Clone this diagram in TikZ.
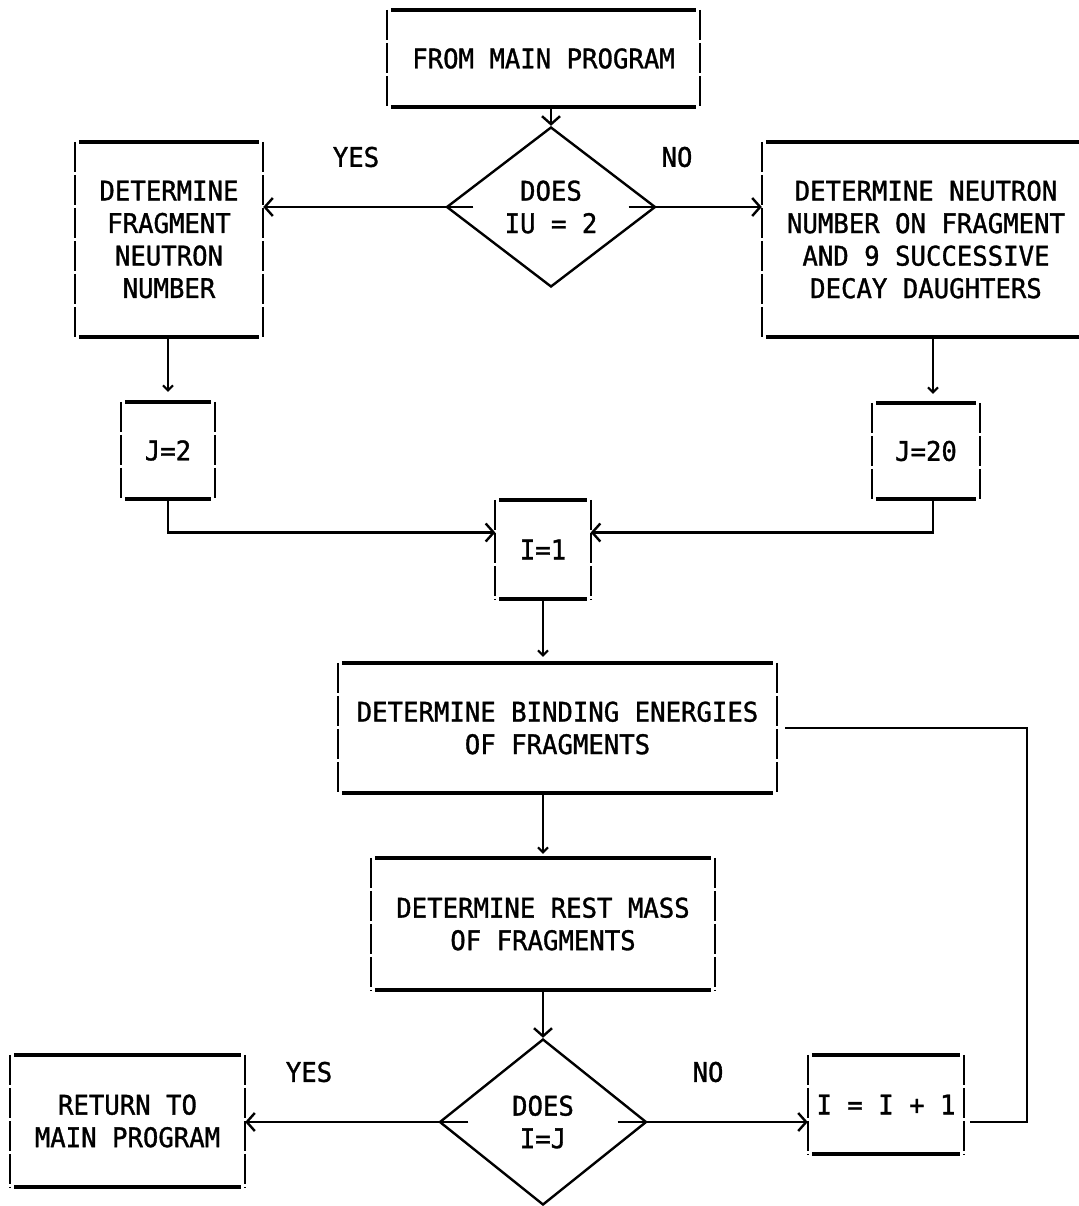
\documentclass[tikz,border=0pt]{standalone}
\usepackage{fontspec}
\newfontfamily\mono[FakeStretch=0.95,FakeBold=1.2]{DejaVu Sans Mono}
\usetikzlibrary{shapes.geometric,arrows.meta,calc}
\tikzset{
  txt/.style={font=\mono\fontsize{27}{32.5}\selectfont, align=center},
  box/.style={txt, rectangle, inner sep=0pt},
  dec/.style={txt, diamond, draw, line width=2.4pt, inner sep=0pt},
  side/.style={line width=2.2pt, dash pattern=on 30pt off 3pt},
  rule/.style={line width=4.4pt},
  conn/.style={line width=2.6pt},
  arr/.style={conn, -{Straight Barb[length=8pt,width=18pt,line width=2.4pt]}},
  sarr/.style={conn, -{Straight Barb[length=5pt,width=10pt,line width=2pt]}},
  lbl/.style={txt}
}
\begin{document}
\begin{tikzpicture}[x=1pt,y=-1pt]
\useasboundingbox (0,0) rectangle (1078,1206);
% boxes
\node[box, minimum width=313pt, minimum height=97pt] (start) at (543.5,58.5) {FROM MAIN PROGRAM};
\node[dec, minimum width=209pt, minimum height=160pt] (d1) at (551,207) {DOES\\IU = 2};
\node[box, minimum width=188pt, minimum height=195pt] (L) at (169,239.5) {DETERMINE\\FRAGMENT\\NEUTRON\\NUMBER};
\node[box, minimum width=328pt, minimum height=195pt] (R) at (926,239.5) {DETERMINE NEUTRON\\NUMBER ON FRAGMENT\\AND 9 SUCCESSIVE\\DECAY DAUGHTERS};
\node[box, minimum width=94pt, minimum height=97pt] (J2) at (168,450.5) {J=2};
\node[box, minimum width=108pt, minimum height=96pt] (J20) at (926,451) {J=20};
\node[box, minimum width=95pt, minimum height=99pt] (I1) at (543,549.5) {I=1};
\node[box, minimum width=439pt, minimum height=130pt] (bind) at (557.5,728) {DETERMINE BINDING ENERGIES\\OF FRAGMENTS};
\node[box, minimum width=344pt, minimum height=132pt] (rest) at (543,924) {DETERMINE REST MASS\\OF FRAGMENTS};
\node[dec, minimum width=207pt, minimum height=166pt] (d2) at (543,1122) {DOES\\I=J};
\node[box, minimum width=235pt, minimum height=132pt] (ret) at (127.5,1121) {RETURN TO\\MAIN PROGRAM};
\node[box, minimum width=156pt, minimum height=99pt] (inc) at (886,1104.5) {I = I + 1};
% box outlines: thin broken sides, heavy top and bottom
\foreach \n in {start,L,R,J2,J20,I1,bind,rest,ret,inc} {
  \draw[side] (\n.north west) -- (\n.south west);
  \draw[side] (\n.north east) -- (\n.south east);
  \draw[rule] ([xshift=4pt]\n.north west) -- ([xshift=-4pt]\n.north east);
  \draw[rule] ([xshift=4pt]\n.south west) -- ([xshift=-4pt]\n.south east);
}
% labels
\node[lbl] (yes1) at (356,157) {YES};
\node[lbl] (no1) at (677,157) {NO};
\node[lbl] (yes2) at (309,1072) {YES};
\node[lbl] (no2) at (708,1072) {NO};
% helper coordinates
\coordinate (m) at (544,532.5);
\coordinate (c1) at (1027,728);
\coordinate (c2) at (1027,1122);
% connectors
\draw[arr] (start.south -| d1.north) -- (d1.north);
\draw[arr, shorten <=-28pt] (d1.west) -- (d1.west -| L.east);
\draw[arr, shorten <=-28pt] (d1.east) -- (d1.east -| R.west);
\draw[sarr, shorten >=10pt] (L.south -| J2.north) -- (J2.north);
\draw[sarr, shorten >=9pt] (R.south -| 933,0) -- (J20.north -| 933,0);
\draw[arr] (J2.south) |- (m -| I1.west);
\draw[arr] (J20.south -| 933,0) |- (m -| I1.east);
\draw[sarr, shorten >=6pt] (I1.south) -- (I1.south |- bind.north);
\draw[sarr, shorten >=4pt] (bind.south -| rest.north) -- (rest.north);
\draw[arr] (rest.south) -- (d2.north);
\draw[arr, shorten <=-30pt] (d2.west) -- (d2.west -| ret.east);
\draw[arr, shorten <=-30pt] (d2.east) -- (d2.east -| inc.west);
\draw[conn, shorten <=8pt, shorten >=6pt] (bind.east) -- (c1) -- (c2) -- (c2 -| inc.east);
\end{tikzpicture}
\end{document}
